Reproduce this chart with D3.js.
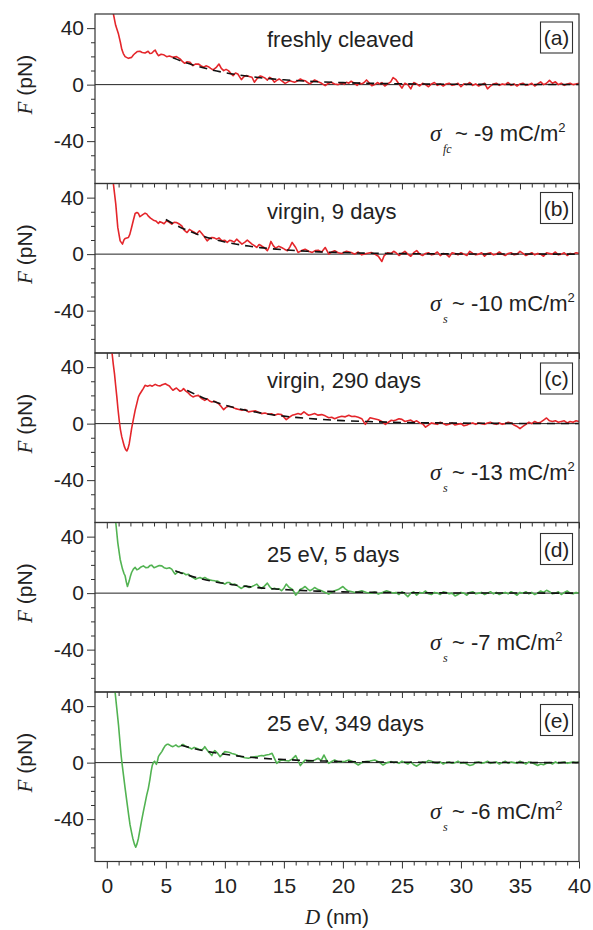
<!DOCTYPE html>
<html><head><meta charset="utf-8">
<script src="https://cdn.jsdelivr.net/npm/d3@7"></script>
<style>body{margin:0;background:#fff}svg{display:block}</style>
</head><body>
<svg id="c" width="593" height="930"></svg>
<script>
// ---------------- DATA ----------------
const xTicksMajor = [0,5,10,15,20,25,30,35,40];
const xTicksMinor = [1,2,3,4,6,7,8,9,11,12,13,14,16,17,18,19,21,22,23,24,26,27,28,29,31,32,33,34,36,37,38,39];
const yTicksMajor = [40,0,-40];
const yTicksMinor = [30,20,10,-10,-20,-30,-50,-60];
const panelIds = ["(a)","(b)","(c)","(d)","(e)"];
const panelTitles = ["freshly cleaved","virgin, 9 days","virgin, 290 days","25 eV, 5 days","25 eV, 349 days"];
const sigmaSubs = ["fc","s","s","s","s"];
const sigmaValues = ["-9","-10","-13","-7","-6"];

// measured force curves, near region: [D (nm), F (pN)]
const headA = [[0.45,54],[0.56,50],[0.75,42],[0.99,35.8],[1.15,30],[1.27,25],[1.4,22],[1.55,19.8],[1.83,18.6],[2.1,19.3],[2.25,21],[2.4,22.2],[2.6,23.5],[2.8,23.6],[3.0,22.8],[3.24,22.4],[3.5,23.6],[3.65,22],[3.8,22.2],[3.95,23.5],[4.1,24.5],[4.25,22],[4.37,20.5],[4.6,21.5],[4.8,21.2],[5.07,19.8],[5.3,20.3],[5.6,19.3],[5.9,19.8],[6.2,18.2],[6.4,16.5],[6.6,15.1],[6.8,16.2],[7.05,15.8],[7.3,13.4],[7.5,14.5],[7.76,14.6],[8.0,13.2],[8.2,12.3],[8.4,13.3],[8.6,12.7],[8.8,11.5],[9.0,10.4],[9.25,12],[9.5,14.6],[9.7,11.5],[9.9,9.9],[10.1,10.8],[10.3,9.9],[10.5,8],[10.7,6.4],[10.9,8.2],[11.1,7.5],[11.25,5.5],[11.4,3.5],[11.6,5.5],[11.8,6.4],[12.05,5.8],[12.3,5.2],[12.5,1.7],[12.75,4.5],[13.0,6.1],[13.2,5.5],[13.4,4.7],[13.6,3.2],[13.8,5.2],[14.0,4.0],[14.2,1.7],[14.4,3.0],[14.6,4.0],[14.85,2.5],[15.1,0.9],[15.3,1.8],[15.5,2.8],[15.7,2.2],[15.9,1.7],[16.15,2.5],[16.4,4.0],[16.6,3.0],[16.8,2.8],[17.0,1.5],[17.2,0.5],[17.4,1.8],[17.6,3.3],[17.9,2.0],[18.2,0.9],[18.5,-0.7],[18.75,0.8],[19.0,1.7],[19.3,0.5],[19.6,0.0],[19.9,1.2],[20.1,0.2],[20.3,1.7],[20.5,1.0],[20.7,2.4],[20.95,1.0],[21.2,-0.5],[21.4,1.2],[21.6,0.5],[21.8,1.5],[22.0,3.3],[22.2,1.5],[22.45,-0.8],[22.7,0.0],[22.95,1.5],[23.1,0.5],[23.3,1.4],[23.55,-1.0],[23.8,0.5],[24.05,2.0],[24.25,5.0]];
const headB = [[0.5,53],[0.56,49.5],[0.76,35.4],[0.93,18.9],[1.13,9.4],[1.33,7.1],[1.45,10],[1.55,11.1],[1.83,11.8],[1.95,14],[2.1,18.9],[2.25,24],[2.4,28.8],[2.55,29.5],[2.68,28.8],[2.8,26.5],[2.9,27.1],[3.05,28],[3.24,29],[3.38,28.5],[3.5,27.1],[3.7,25.5],[3.95,24],[4.15,23.5],[4.37,21.7],[4.5,23],[4.66,22.4],[4.85,21.5],[5.07,23.6],[5.3,22.5],[5.5,21.2],[5.7,22.5],[5.9,22.4],[6.1,21.5],[6.35,20],[6.55,17],[6.8,15.3],[7.0,17.5],[7.2,16.5],[7.4,15.5],[7.6,14.2],[7.85,16.5],[8.05,14.6],[8.25,12.5],[8.5,9.4],[8.7,11],[8.9,11.8],[9.1,11.5],[9.3,10.6],[9.5,11.5],[9.75,9.4],[10.0,9.8],[10.2,8.3],[10.4,9.8],[10.6,9.4],[10.8,8.5],[11.0,10.6],[11.2,9.0],[11.45,7.1],[11.7,8.5],[11.9,9.9],[12.1,8.5],[12.3,7.1],[12.5,6.0],[12.7,4.7],[12.9,6.8],[13.1,5.9],[13.35,4.5],[13.6,2.4],[13.75,5],[13.9,9.0],[14.1,6],[14.3,4.2],[14.55,5.5],[14.8,4.7],[15.05,3.5],[15.3,2.4],[15.5,5],[15.7,8.3],[15.85,6.5],[16.0,4.7],[16.2,1.2],[16.5,2.5],[16.8,3.5],[17.1,2.0],[17.4,1.2],[17.65,2.5],[17.9,2.8],[18.2,1.5],[18.5,4.7],[18.65,2.5],[18.8,0.0],[19.05,1.5],[19.3,2.4],[19.6,1.0],[19.9,0.5],[20.3,2.0],[20.7,1.2],[21.0,0.0],[21.3,1.5],[21.6,-0.5],[22.0,0.5],[22.4,1.2],[22.7,0.0],[23.0,-1.5],[23.3,-5.2],[23.5,-1.0],[23.8,1.0],[24.1,0.5],[24.3,2.0]];
const headC = [[0.4,53],[0.45,49.5],[0.55,42],[0.65,35.4],[0.75,27],[0.85,18.9],[0.95,10],[1.05,2.4],[1.15,-4],[1.27,-9.4],[1.4,-13.5],[1.5,-16.5],[1.6,-18.5],[1.7,-19.3],[1.8,-17.5],[1.9,-14.2],[2.0,-9],[2.1,-3.5],[2.25,3],[2.4,9.4],[2.55,14.5],[2.68,18.9],[2.8,21],[2.96,23.1],[3.1,25],[3.24,27.1],[3.45,26.5],[3.66,27.1],[3.85,26.5],[4.1,27.8],[4.3,27],[4.5,26.7],[4.7,27.5],[4.95,28.3],[5.1,27.5],[5.3,26.7],[5.45,25],[5.6,23.6],[5.75,24.5],[5.9,25.2],[6.05,24],[6.2,22.9],[6.35,23.5],[6.5,24.8],[6.7,23],[6.9,21.7],[7.1,20],[7.3,18.9],[7.5,19.5],[7.76,20],[8.0,18],[8.3,16.5],[8.5,17.5],[8.7,16],[8.9,15.3],[9.15,15.8],[9.45,14.2],[9.7,12],[9.9,9.9],[10.1,11.5],[10.3,12.3],[10.6,11.8],[10.9,10.6],[11.2,10],[11.45,9.4],[11.7,10],[12.0,8.3],[12.3,8.8],[12.6,9.0],[12.85,8.0],[13.1,7.1],[13.4,7.5],[13.7,6.6],[13.95,7.0],[14.2,5.9],[14.5,6.8],[14.8,6.4],[15.0,4.5],[15.2,2.8],[15.45,4.5],[15.7,5.9],[15.95,6.5],[16.2,7.1],[16.45,6.5],[16.7,8.3],[16.9,7.0],[17.1,5.9],[17.35,6.5],[17.6,7.1],[17.9,6.0],[18.2,6.4],[18.5,5.5],[18.8,4.2],[19.05,4.5],[19.3,3.5],[19.6,4.5],[19.9,5.2],[20.2,4.8],[20.5,5.9],[20.75,5.0],[21.0,5.2],[21.3,4.5],[21.6,3.5],[21.9,-0.5],[22.1,2.0],[22.3,4.2],[22.65,3.5],[23.0,2.8],[23.3,1.5],[23.6,-0.5],[23.85,1.0],[24.1,2.4],[24.3,2.0]];
const headD = [[0.7,54],[0.76,50],[0.93,35.8],[1.13,24],[1.33,17],[1.45,14],[1.55,12.3],[1.65,8],[1.75,4.7],[1.9,8.7],[2.0,12],[2.1,14.6],[2.25,17],[2.4,18.2],[2.55,16.5],[2.68,17],[2.9,18.5],[3.1,19.3],[3.3,18],[3.5,18.2],[3.65,19.5],[3.8,19.8],[4.0,18],[4.2,18.6],[4.45,19.5],[4.66,19.3],[4.85,18],[5.07,17.5],[5.3,18],[5.5,17],[5.65,15],[5.8,13.4],[5.95,14.5],[6.1,15.1],[6.3,14],[6.5,14.2],[6.7,13],[6.9,13.4],[7.2,11.5],[7.5,9.9],[7.7,10.5],[7.9,11.1],[8.1,10.2],[8.3,11.1],[8.5,10],[8.7,9.4],[8.95,9.0],[9.15,8.7],[9.4,8.5],[9.6,7.5],[9.8,7.2],[10.0,6.4],[10.2,7.5],[10.4,7.5],[10.6,6.0],[10.85,6.4],[11.1,5.0],[11.4,3.3],[11.6,4.5],[11.8,5.2],[12.05,4.0],[12.3,4.7],[12.5,5.5],[12.7,6.4],[12.9,4.5],[13.1,3.3],[13.35,5.0],[13.6,7.1],[13.8,4.5],[14.0,2.8],[14.2,3.5],[14.4,2.8],[14.6,3.0],[14.8,1.7],[15.0,3.5],[15.2,6.4],[15.45,4.0],[15.7,2.8],[15.85,1.0],[16.0,-1.4],[16.2,0.5],[16.4,2.8],[16.6,3.5],[16.8,4.7],[17.0,3.0],[17.2,1.7],[17.4,2.5],[17.6,4.0],[17.9,2.5],[18.2,1.7],[18.5,0.5],[18.8,-0.7],[19.05,0.5],[19.3,1.7],[19.6,2.5],[20.0,4.7],[20.2,3.0],[20.4,1.7],[20.7,1.2],[21.0,0.5],[21.3,1.0],[21.6,1.7],[22.0,0.5],[22.4,0.0],[22.7,0.8],[23.0,-0.7],[23.35,0.5],[23.7,1.7],[24.0,0.8],[24.25,0.0]];
const headE = [[0.65,56],[0.7,50],[0.85,38],[0.99,26.7],[1.1,16],[1.21,5.4],[1.31,-2],[1.41,-8.7],[1.55,-18],[1.7,-27.6],[1.85,-37],[1.97,-44.1],[2.1,-49.5],[2.2,-53.5],[2.33,-57.5],[2.45,-59.9],[2.56,-57.5],[2.68,-53.5],[2.82,-47],[2.96,-40.6],[3.1,-34.5],[3.24,-28.8],[3.38,-23],[3.52,-18.2],[3.65,-12],[3.75,-6.4],[3.85,-2],[3.95,0.2],[4.05,1.0],[4.2,-1.2],[4.3,1.5],[4.37,4.2],[4.5,6],[4.66,7.8],[4.8,10],[4.95,12],[5.1,13],[5.2,13],[5.4,12],[5.6,11.3],[5.75,12],[5.85,12.5],[6.0,11.5],[6.1,11.3],[6.3,12],[6.45,13],[6.6,12],[6.8,11.3],[7.0,10.5],[7.2,9.7],[7.4,10.8],[7.6,10.1],[7.8,9.5],[8.05,9],[8.2,10],[8.3,11.3],[8.45,9.5],[8.6,7.8],[8.75,6.5],[8.9,5],[9.0,7],[9.15,8.5],[9.4,6.5],[9.6,4.2],[9.8,6.0],[10.0,7.8],[10.2,7.5],[10.4,7.1],[10.6,6.5],[10.85,5.9],[11.1,5.0],[11.4,4.2],[11.7,3.5],[12.0,3.1],[12.25,3.8],[12.5,4.2],[12.8,4.5],[13.1,5.0],[13.3,4.8],[13.5,5.4],[13.75,5.8],[14.0,6.6],[14.2,3],[14.4,-0.5],[14.6,1.0],[14.8,1.9],[15.1,1.5],[15.4,1.2],[15.7,2.5],[16.0,5.0],[16.2,1.5],[16.4,-2.1],[16.6,0.0],[16.8,1.9],[17.1,1.0],[17.4,1.2],[17.65,2.0],[17.9,3.1],[18.15,1.5],[18.4,5.4],[18.6,2.0],[18.8,-0.5],[19.05,0.8],[19.3,1.9],[19.6,0.5],[19.9,0.7],[20.2,1.0],[20.5,1.9],[20.9,0.5],[21.3,-1.7],[21.6,0.0],[21.9,0.7],[22.3,1.2],[22.7,1.9],[23.05,0.5],[23.4,-1.7],[23.75,0.0],[24.1,0.7],[24.3,0.0]];

// far region, shared distance grid (nm)
const dTail = [24.5,24.75,25,25.25,25.5,25.75,26,26.25,26.5,26.75,
  27,27.25,27.5,27.75,28,28.25,28.5,28.75,29,29.25,
  29.5,29.75,30,30.25,30.5,30.75,31,31.25,31.5,31.75,
  32,32.25,32.5,32.75,33,33.25,33.5,33.75,34,34.25,
  34.5,34.75,35,35.25,35.5,35.75,36,36.25,36.5,36.75,
  37,37.25,37.5,37.75,38,38.25,38.5,38.75,39,39.25,
  39.5,39.75,40];
const tailA = [3.5,0.5,-2.5,1.0,0.0,-3.0,1.5,0.5,-1.0,1.0,
  0.0,-1.5,0.5,1.5,-0.5,0.5,-1.0,0.5,1.0,-0.5,
  0.0,1.0,-1.5,0.5,0.0,1.5,-0.5,0.5,-1.0,0.0,
  1.0,-3.0,-1.0,0.5,1.0,-0.5,0.5,0.0,1.5,-0.5,
  0.5,-1.0,0.5,1.0,-0.5,0.0,1.0,-1.0,0.5,2.0,
  0.0,1.0,3.0,1.0,2.0,0.0,1.0,-0.5,0.5,1.0,
  0.0,0.5,1.0];
const tailB = [1.0,-1.0,0.5,2.0,0.0,-1.5,1.0,2.5,0.0,-1.0,
  0.5,1.0,-0.5,0.0,1.5,-1.0,0.5,0.0,-2.0,1.0,
  0.5,-0.5,1.0,0.0,-1.0,2.0,0.5,-0.5,0.0,1.0,
  -1.5,0.5,1.0,-0.5,0.0,1.5,0.0,-1.0,0.5,1.0,
  -0.5,0.0,2.0,0.5,-1.0,0.0,1.0,-0.5,0.5,0.0,
  -1.5,1.0,0.5,0.0,1.5,-0.5,0.0,1.0,-1.0,0.5,
  0.0,1.0,0.5];
const tailC = [2.5,3.5,3.0,1.5,2.0,2.5,1.0,2.0,0.5,0.0,
  -2.5,-1.0,0.5,0.0,-0.5,1.0,0.0,-1.0,-0.5,0.5,
  -1.0,-0.5,0.0,-1.5,-1.0,0.0,0.5,-0.5,0.5,0.0,
  -0.5,0.5,1.0,0.0,-0.5,0.5,-0.5,0.0,1.0,0.5,
  -1.0,-2.0,-3.5,-2.0,-0.5,1.0,0.0,1.5,0.5,1.0,
  2.5,4.0,2.0,1.5,2.0,1.0,1.5,2.0,0.5,1.5,
  1.0,2.0,1.5];
const tailD = [0.5,-1.0,1.0,-0.5,-2.5,0.0,1.0,-1.5,0.5,0.0,
  1.5,-0.5,-1.0,0.5,0.0,-1.0,1.0,0.5,-0.5,0.0,
  -2.0,-1.0,0.5,0.0,-1.5,0.5,1.0,-0.5,0.0,0.5,
  -1.0,0.0,1.0,-0.5,0.5,-1.0,0.0,0.5,-0.5,1.0,
  0.0,-1.5,0.5,0.0,1.0,-0.5,0.5,-1.0,0.0,1.5,
  0.5,2.0,1.0,-0.5,0.0,1.0,-1.0,0.5,1.5,0.0,
  -0.5,0.5,0.0];
const tailE = [0.5,-0.5,1.0,0.0,-1.0,0.5,-1.5,-2.5,-1.0,0.5,
  0.0,1.5,1.0,0.0,-0.5,0.5,-1.0,0.0,0.5,-0.5,
  0.0,1.0,-0.5,0.0,-1.0,-2.0,-1.5,0.0,0.5,-0.5,
  0.0,1.0,-0.5,0.0,0.5,-1.0,0.0,1.0,-0.5,0.5,
  0.0,-0.5,1.0,0.0,-1.0,0.5,0.0,-1.0,-2.0,-1.0,
  -1.5,-0.5,0.0,-1.0,0.5,-0.5,0.0,0.5,-0.5,0.0,
  0.5,0.0,0.5];

// fitted curves (dashed): [D, F]
const fitA = [[5.6,19.0],[6,17.7],[7,14.7],[8,12.3],[9,10.2],[10,8.5],[11,7.1],[12,5.9],[13,4.9],[14,4.1],[15,3.4],[16,2.9],[17,2.4],[18,2.0],[20,1.4],[22,1.0],[24,0.7],[26,0.49],[28,0.34],[30,0.23],[33,0.13],[36,0.08],[40,0.04]];
const fitB = [[5,24.5],[6,19.9],[7,16.2],[8,13.1],[9,10.6],[10,8.6],[11,7.0],[12,5.7],[13,4.6],[14,3.8],[15,3.1],[16,2.5],[17,2.0],[18,1.6],[20,1.1],[22,0.7],[24,0.47],[26,0.31],[28,0.2],[30,0.13],[33,0.07],[36,0.04],[40,0.02]];
const fitC = [[6.8,23.5],[7,22.7],[8,18.9],[9,15.8],[10,13.1],[11,10.9],[12,9.1],[13,7.6],[14,6.3],[15,5.3],[16,4.4],[17,3.7],[18,3.1],[20,2.1],[22,1.5],[24,1.0],[26,0.7],[28,0.5],[30,0.34],[33,0.2],[36,0.11],[40,0.05]];
const fitD = [[5.8,15.8],[6,15.2],[7,12.4],[8,10.2],[9,8.3],[10,6.8],[11,5.6],[12,4.6],[13,3.7],[14,3.1],[15,2.5],[16,2.1],[17,1.7],[18,1.4],[20,0.9],[22,0.6],[24,0.4],[26,0.27],[28,0.18],[30,0.12],[33,0.07],[36,0.04],[40,0.02]];
const fitE = [[6.3,12.3],[7,10.7],[8,8.8],[9,7.2],[10,5.9],[11,4.8],[12,3.9],[13,3.2],[14,2.6],[15,2.2],[16,1.8],[17,1.4],[18,1.2],[20,0.8],[22,0.5],[24,0.35],[26,0.24],[28,0.16],[30,0.1],[33,0.06],[36,0.03],[40,0.02]];

// ---------------- LAYOUT / STYLE ----------------
const RED = "#e4262b", GREEN = "#52b352";
const SANS = "'Liberation Sans', Arial, sans-serif";
const SERIF = "'Liberation Serif', 'Times New Roman', serif";
const INK = "#222";
const L = 95, R = 579, T0 = 14, PH = 169.5;
const titleDy = [33, 35.5, 35, 39, 39];
const boxDy = [8, 9, 10, 11, 12.5];

const heads = [headA, headB, headC, headD, headE];
const tails = [tailA, tailB, tailC, tailD, tailE];
const fits = [fitA, fitB, fitC, fitD, fitE];
const colors = [RED, RED, RED, GREEN, GREEN];

const svg = d3.select("#c");
const x = d3.scaleLinear().domain([-1, 40]).range([L, R]);
const defs = svg.append("defs");

panelIds.forEach((pid, i) => {
  const top = T0 + i * PH, bot = top + PH;
  const y = d3.scaleLinear().domain([-70, 50]).range([bot, top]);
  const g = svg.append("g");

  defs.append("clipPath").attr("id", "clip" + i)
    .append("rect").attr("x", L).attr("y", top).attr("width", R - L).attr("height", PH);

  // zero line
  g.append("line").attr("x1", L).attr("x2", R).attr("y1", y(0)).attr("y2", y(0))
    .attr("stroke", "#222").attr("stroke-width", 1);

  const pts = heads[i].concat(dTail.map((d, k) => [d, tails[i][k]]));
  const line = d3.line().x(d => x(d[0])).y(d => y(d[1]));
  g.append("path").datum(pts).attr("d", line)
    .attr("clip-path", `url(#clip${i})`)
    .attr("fill", "none").attr("stroke", colors[i]).attr("stroke-width", 1.6)
    .attr("stroke-linejoin", "round");

  const fline = d3.line().x(d => x(d[0])).y(d => y(d[1])).curve(d3.curveMonotoneX);
  g.append("path").datum(fits[i]).attr("d", fline)
    .attr("clip-path", `url(#clip${i})`)
    .attr("fill", "none").attr("stroke", "#111").attr("stroke-width", 1.6)
    .attr("stroke-dasharray", "8,6");

  // frame
  g.append("rect").attr("x", L).attr("y", top).attr("width", R - L).attr("height", PH)
    .attr("fill", "none").attr("stroke", "#333").attr("stroke-width", 1.2);

  // y axis ticks
  const yMinor = g.append("g").attr("transform", `translate(${L},0)`)
    .call(d3.axisLeft(y).tickValues(yTicksMinor).tickSize(4).tickFormat(""));
  const yMajor = g.append("g").attr("transform", `translate(${L},0)`)
    .call(d3.axisLeft(y).tickValues(yTicksMajor).tickSize(8).tickPadding(3).tickFormat(d => String(d)));
  [yMinor, yMajor].forEach(a => {
    a.select(".domain").remove();
    a.selectAll("line").attr("stroke", "#333");
    a.selectAll("text").attr("font-family", SANS).attr("font-size", 21).attr("fill", INK);
  });

  // top x ticks (inward) for panels below the first
  if (i > 0) {
    const xa = g.append("g").attr("transform", `translate(0,${top})`);
    xa.append("g").call(d3.axisBottom(x).tickValues(xTicksMinor).tickSize(4).tickFormat(""));
    xa.append("g").call(d3.axisBottom(x).tickValues(xTicksMajor).tickSize(6).tickFormat(""));
    xa.selectAll(".domain").remove();
    xa.selectAll("line").attr("stroke", "#333");
  }

  // y label
  const yl = g.append("text")
    .attr("transform", `translate(32,${y(0)}) rotate(-90)`)
    .attr("text-anchor", "middle").attr("fill", INK).attr("font-size", 21);
  yl.append("tspan").attr("font-family", SERIF).attr("font-style", "italic").text("F");
  yl.append("tspan").attr("font-family", SANS).text(" (pN)");

  // title
  g.append("text").attr("x", 267).attr("y", top + titleDy[i])
    .attr("font-family", SANS).attr("font-size", 22).attr("fill", INK)
    .text(panelTitles[i]);

  // boxed id
  g.append("rect").attr("x", 540.5).attr("y", top + boxDy[i]).attr("width", 32).attr("height", 31)
    .attr("fill", "#fff").attr("stroke", "#333").attr("stroke-width", 1.1);
  g.append("text").attr("x", 556.5).attr("y", top + boxDy[i] + 23)
    .attr("text-anchor", "middle").attr("font-family", SANS).attr("font-size", 21).attr("fill", INK)
    .text(pid);

  // sigma label
  const sb = top + 127;
  g.append("text").attr("x", 430).attr("y", sb)
    .attr("font-family", SERIF).attr("font-style", "italic").attr("font-size", 23).attr("fill", INK)
    .text("σ");
  g.append("text").attr("x", 443).attr("y", sb + 12)
    .attr("font-family", SERIF).attr("font-style", "italic").attr("font-size", 12).attr("fill", INK)
    .text(sigmaSubs[i]);
  const st = g.append("text").attr("x", sigmaSubs[i] === "fc" ? 455 : 452).attr("y", sb)
    .attr("font-family", SANS).attr("font-size", 22).attr("fill", INK);
  st.append("tspan").text(`~ ${sigmaValues[i]} mC/m`);
  st.append("tspan").attr("font-size", 13).attr("dy", -9).text("2");
});

// bottom x axis
const bot = T0 + 5 * PH;
const xb = svg.append("g").attr("transform", `translate(0,${bot})`);
xb.append("g").call(d3.axisBottom(x).tickValues(xTicksMinor).tickSize(4).tickFormat(""));
xb.append("g").call(d3.axisBottom(x).tickValues(xTicksMajor).tickSize(7).tickPadding(10).tickFormat(d => String(d)));
xb.selectAll(".domain").remove();
xb.selectAll("line").attr("stroke", "#333");
xb.selectAll("text").attr("font-family", SANS).attr("font-size", 21).attr("fill", INK);

const xl = svg.append("text").attr("x", (L + R) / 2).attr("y", 924)
  .attr("text-anchor", "middle").attr("fill", INK).attr("font-size", 21);
xl.append("tspan").attr("font-family", SERIF).attr("font-style", "italic").text("D");
xl.append("tspan").attr("font-family", SANS).text(" (nm)");
</script>
</body></html>
